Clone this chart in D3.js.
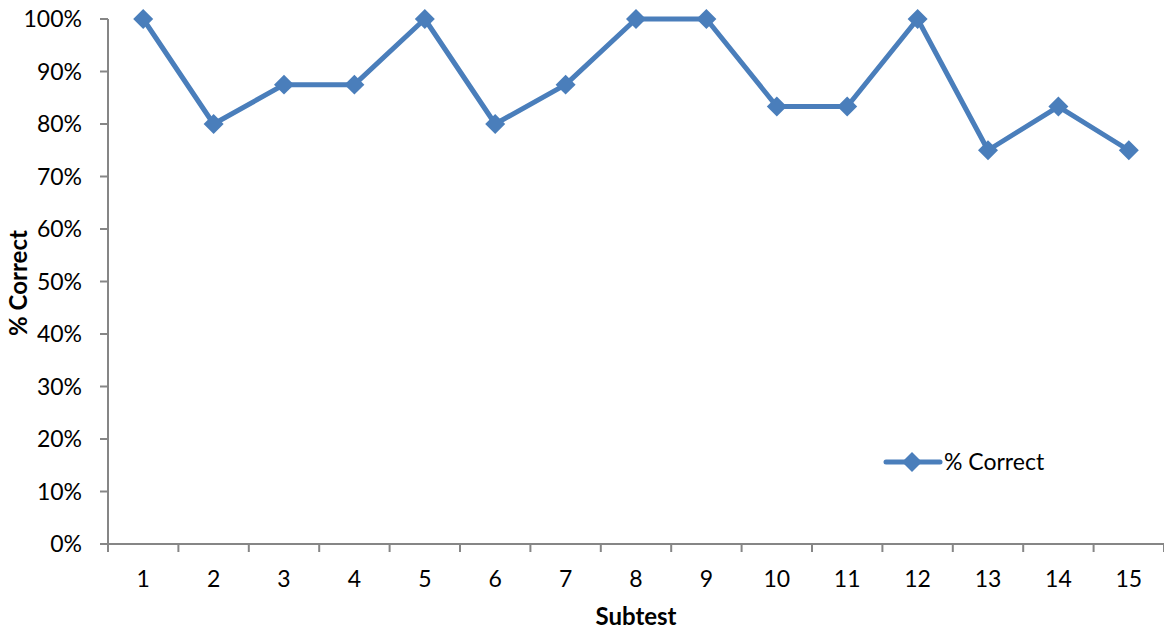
<!DOCTYPE html>
<html><head><meta charset="utf-8">
<script src="https://cdn.jsdelivr.net/npm/d3@7"></script>
<style>body{margin:0;background:#fff}svg{display:block}text{font-family:Lato,"Open Sans",sans-serif;fill:#000}</style>
</head><body>
<svg id="c" width="1164" height="633"></svg>
<script>
const subtests = ["1","2","3","4","5","6","7","8","9","10","11","12","13","14","15"];
const pctCorrect = [1.0,0.8,0.875,0.875,1.0,0.8,0.875,1.0,1.0,0.8333,0.8333,1.0,0.75,0.8333,0.75];
const yTicks = [0,0.1,0.2,0.3,0.4,0.5,0.6,0.7,0.8,0.9,1.0];
const seriesName = "% Correct";
const xTitle = "Subtest";
const yTitle = "% Correct";

const svg = d3.select("#c");
const L = 108, R = 1164, T = 19, B = 544;
const color = "#4a7ebb", axisColor = "#868686";

const x = d3.scaleBand().domain(subtests).range([L, R]);
const y = d3.scaleLinear().domain([0, 1]).range([B, T]);

// y axis
const ya = svg.append("g");
ya.append("line").attr("x1", L).attr("x2", L).attr("y1", T).attr("y2", B).attr("stroke", axisColor).attr("stroke-width", 2);
ya.selectAll("line.t").data(yTicks).join("line").attr("class","t")
  .attr("x1", L - 8).attr("x2", L).attr("y1", d => y(d)).attr("y2", d => y(d))
  .attr("stroke", axisColor).attr("stroke-width", 2);
ya.selectAll("text").data(yTicks).join("text")
  .attr("x", 82).attr("y", d => y(d) + 8).attr("text-anchor", "end")
  .style("font-size", "23px").text(d => d3.format(".0%")(d));

// x axis
const xa = svg.append("g");
xa.append("line").attr("x1", L).attr("x2", R).attr("y1", B).attr("y2", B).attr("stroke", axisColor).attr("stroke-width", 2);
const xTickPos = subtests.map(s => x(s)).concat([R]);
xa.selectAll("line.t").data(xTickPos).join("line").attr("class","t")
  .attr("x1", d => d).attr("x2", d => d).attr("y1", B).attr("y2", B + 8)
  .attr("stroke", axisColor).attr("stroke-width", 2);
xa.selectAll("text").data(subtests).join("text")
  .attr("x", d => x(d) + x.bandwidth() / 2).attr("y", 587).attr("text-anchor", "middle")
  .style("font-size", "23px").text(d => d);

// titles
svg.append("text").attr("x", 636).attr("y", 625).attr("text-anchor", "middle")
  .style("font-size", "24px").style("font-weight", "bold").text(xTitle);
svg.append("text").attr("transform", "translate(27,283) rotate(-90)").attr("text-anchor", "middle")
  .style("font-size", "24px").style("font-weight", "bold").text(yTitle);

// line
const cx = d => x(d) + x.bandwidth() / 2;
const line = d3.line().x((d, i) => cx(subtests[i])).y(d => y(d));
svg.append("path").datum(pctCorrect).attr("d", line).attr("fill", "none")
  .attr("stroke", color).attr("stroke-width", 5).attr("stroke-linejoin", "round");
const diamond = d3.symbol().type(d3.symbolSquare).size(200);
svg.selectAll("path.m").data(pctCorrect).join("path").attr("class", "m")
  .attr("d", diamond)
  .attr("transform", (d, i) => `translate(${cx(subtests[i])},${y(d)}) rotate(45)`)
  .attr("fill", color);

// legend
const lg = svg.append("g");
lg.append("line").attr("x1", 886).attr("x2", 940).attr("y1", 462).attr("y2", 462)
  .attr("stroke", color).attr("stroke-width", 5).attr("stroke-linecap", "round");
lg.append("path").attr("d", diamond).attr("transform", "translate(912,462) rotate(45)").attr("fill", color);
lg.append("text").attr("x", 944).attr("y", 470).style("font-size", "23px").text(seriesName);
</script>
</body></html>
